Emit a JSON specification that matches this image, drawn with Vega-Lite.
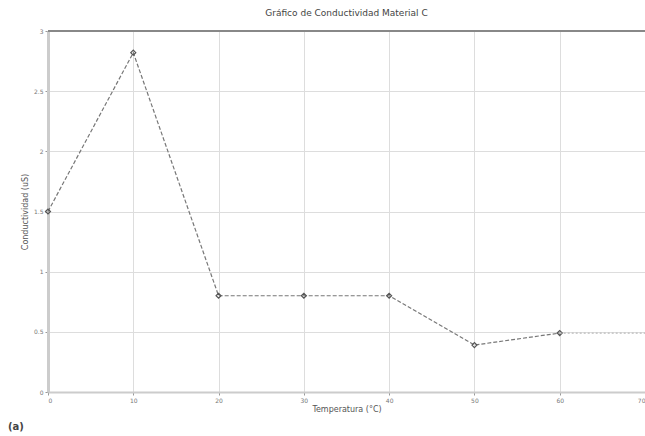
{
  "$schema": "https://vega.github.io/schema/vega-lite/v6.json",
  "width": 597,
  "height": 361,
  "autosize": {"type": "none"},
  "padding": {"left": 48, "top": 31, "right": 0, "bottom": 44},
  "background": "white",
  "title": {"text": "Gráfico de Conductividad Material C", "fontSize": 9, "font": "DejaVu Sans", "fontWeight": "normal", "color": "#444", "offset": 10},
  "config": {"view": {"stroke": null}},
  "datasets": {
    "pts": [
      {"temp": 0, "cond": 1.5},
      {"temp": 10, "cond": 2.82},
      {"temp": 20, "cond": 0.8},
      {"temp": 30, "cond": 0.8},
      {"temp": 40, "cond": 0.8},
      {"temp": 50, "cond": 0.39},
      {"temp": 60, "cond": 0.49}
    ],
    "tail": [
      {"temp": 60, "cond": 0.49},
      {"temp": 70, "cond": 0.49}
    ]
  },
  "layer": [
    {
      "data": {"name": "pts"},
      "mark": {"type": "line", "color": "#777", "strokeWidth": 1.2, "strokeDash": [4, 2], "point": {"shape": "diamond", "size": 25, "filled": false, "stroke": "#555", "strokeWidth": 1.2}},
      "encoding": {
        "x": {"field": "temp", "type": "quantitative", "scale": {"domain": [0, 70], "nice": false},
          "axis": {"values": [0, 10, 20, 30, 40, 50, 60, 70], "format": "~g", "title": "Temperatura (°C)", "titleFontSize": 8, "titleFontWeight": "normal", "titleColor": "#555", "titleFont": "DejaVu Sans", "titlePadding": 2, "labelFontSize": 6, "labelColor": "#777", "labelFont": "DejaVu Sans", "gridColor": "#ddd", "domainColor": "#ccc", "domainWidth": 2, "tickColor": "#999", "tickSize": 3, "labelPadding": 2}},
        "y": {"field": "cond", "type": "quantitative", "scale": {"domain": [0, 3], "nice": false},
          "axis": {"values": [0, 0.5, 1, 1.5, 2, 2.5, 3], "format": "~g", "title": "Conductividad (uS)", "titleFontSize": 8, "titleFontWeight": "normal", "titleColor": "#555", "titleFont": "DejaVu Sans", "titlePadding": 4, "labelFontSize": 6, "labelColor": "#777", "labelFont": "DejaVu Sans", "gridColor": "#ddd", "domainColor": "#ccc", "domainWidth": 3, "tickColor": "#999", "tickSize": 3, "labelPadding": 2}}
      }
    },
    {
      "data": {"name": "tail"},
      "mark": {"type": "line", "color": "#bbb", "strokeWidth": 1.2, "strokeDash": [2, 2]},
      "encoding": {
        "x": {"field": "temp", "type": "quantitative"},
        "y": {"field": "cond", "type": "quantitative"}
      }
    },
    {
      "data": {"values": [{"v": 3}]},
      "mark": {"type": "rule", "color": "#888", "strokeWidth": 2},
      "encoding": {"y": {"field": "v", "type": "quantitative"}}
    },
    {
      "data": {"values": [{"label": "(a)"}]},
      "mark": {"type": "text", "fontSize": 10, "fontWeight": "bold", "color": "#444", "font": "DejaVu Sans", "clip": false, "align": "left"},
      "encoding": {
        "text": {"field": "label"},
        "x": {"datum": -4.7},
        "y": {"datum": -0.29}
      }
    }
  ]
}
